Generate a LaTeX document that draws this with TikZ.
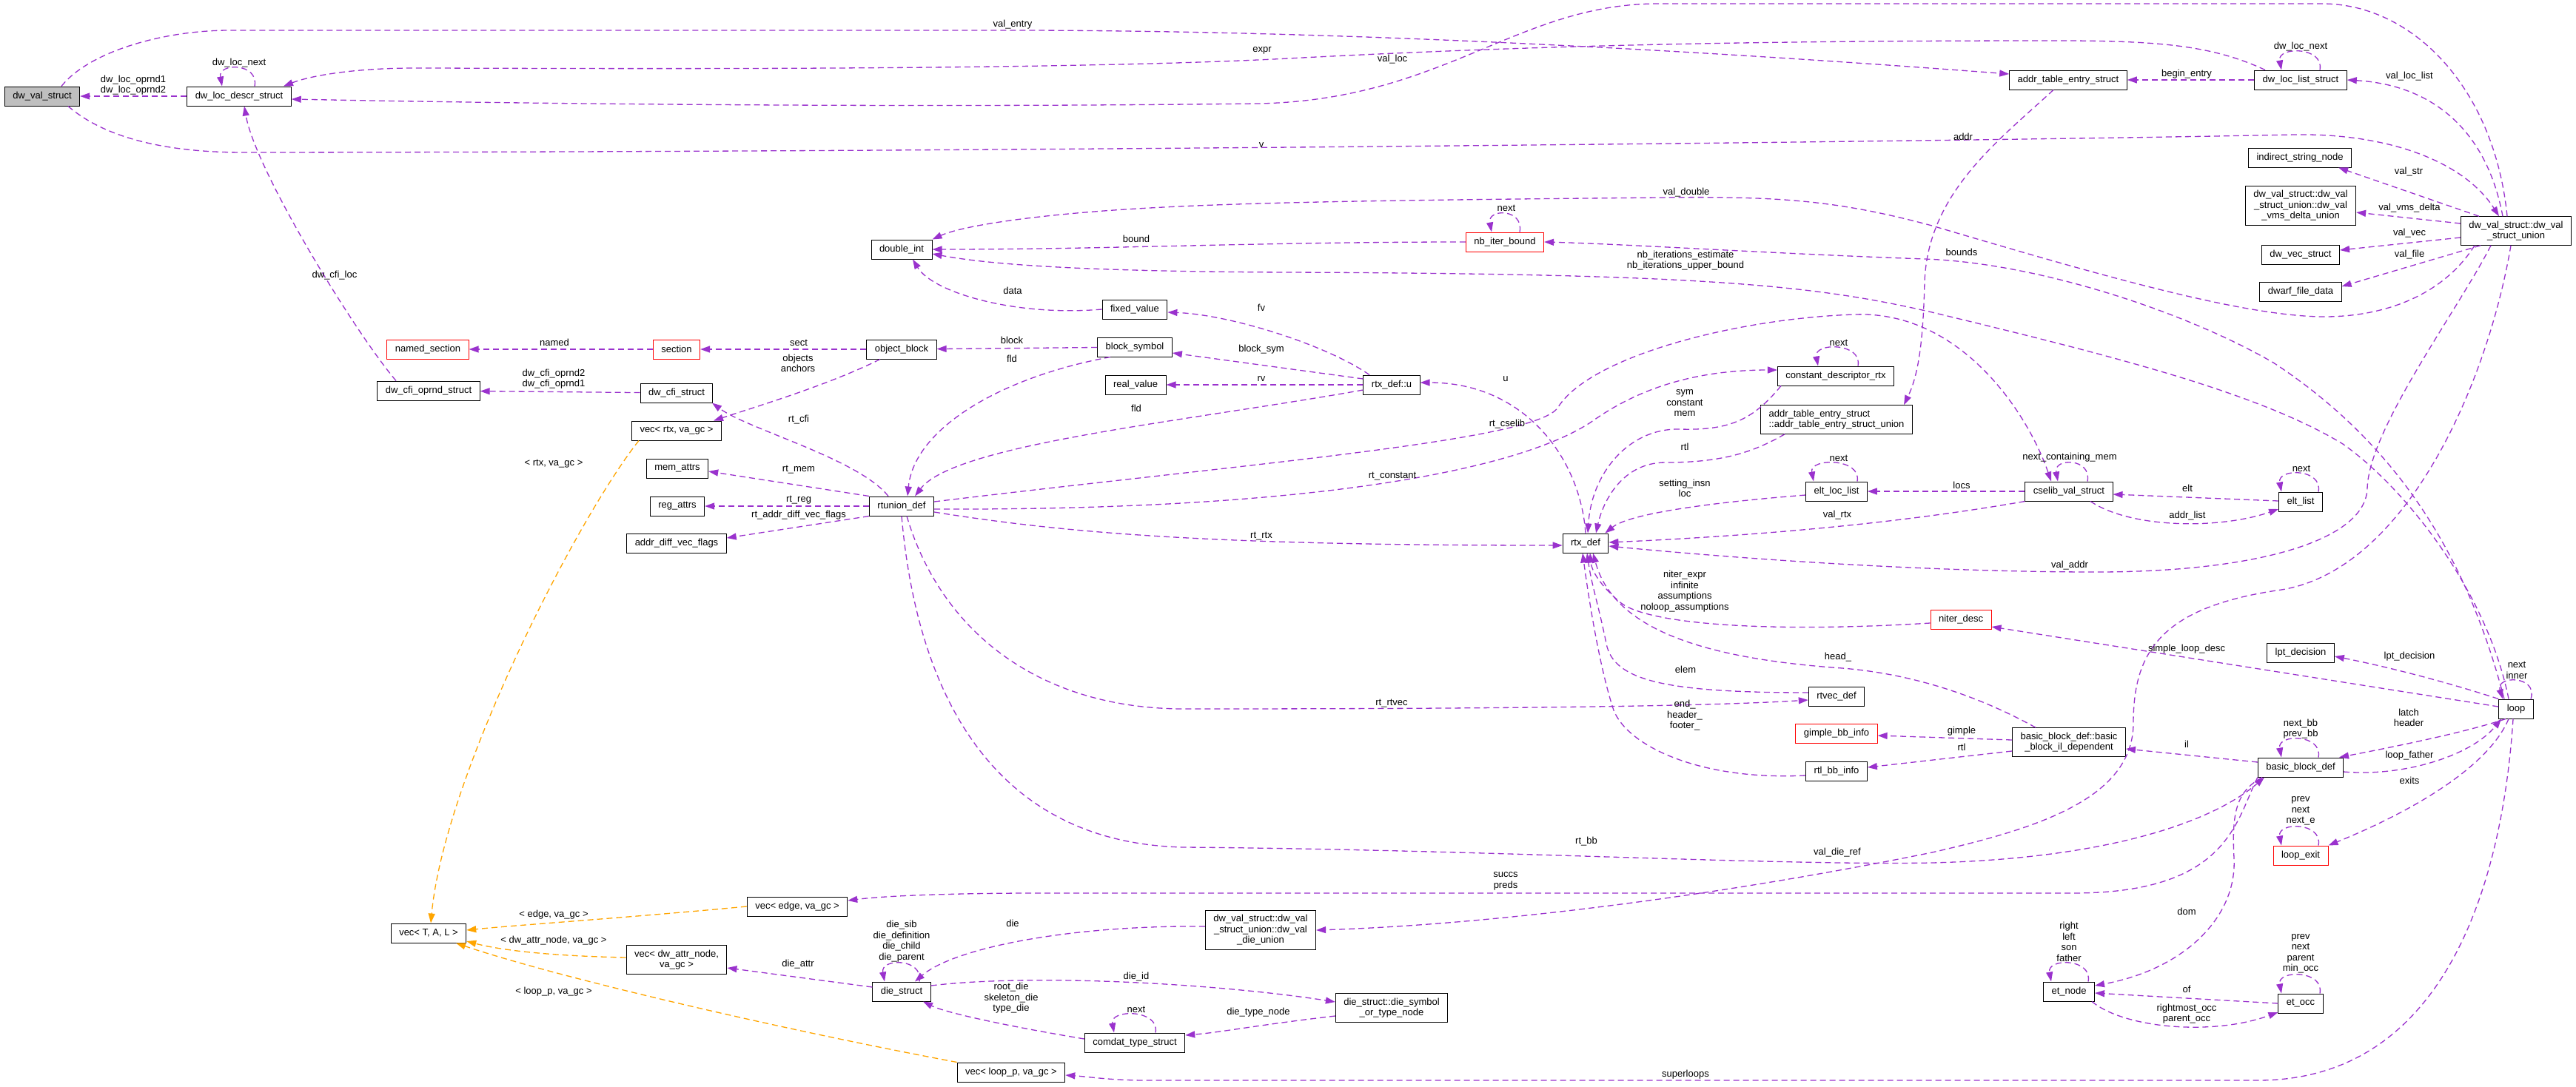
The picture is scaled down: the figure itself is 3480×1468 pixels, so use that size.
\documentclass[tikz,border=0pt]{standalone}
\usepackage{fontspec}
\setmainfont{Liberation Sans}
\usetikzlibrary{arrows.meta}
\definecolor{edgepurple}{HTML}{9A32CD}
\definecolor{tmplorange}{HTML}{FFA500}
\definecolor{boxgray}{HTML}{BFBFBF}
\begin{document}
\begin{tikzpicture}[x=1pt,y=-1pt,
  cls/.style={draw=black,line width=1pt,fill=white,font=\fontsize{13}{14.5}\selectfont,
              align=center,minimum height=26pt,inner xsep=11pt,inner ysep=6pt},
  cur/.style={cls,fill=boxgray},
  trunc/.style={cls,draw=red},
  uses/.style={draw=edgepurple,line width=1.3pt,dash pattern=on 8pt off 5pt,
               -{Triangle[length=13pt,width=9pt]}},
  tmpl/.style={uses,draw=tmplorange},
  lbl/.style={font=\fontsize{13}{14.5}\selectfont,align=center,inner sep=0pt}
]
  \useasboundingbox (0,0) rectangle (3480,1468);
  % Column 1
  \node[cur] (dwval) at (57,130) {dw\_val\_struct};
  \node[cls] (ldescr) at (323,130) {dw\_loc\_descr\_struct};
  \node[trunc] (namedsec) at (578,472) {named\_section};
  \node[cls] (cfiopr) at (579,528) {dw\_cfi\_oprnd\_struct};
  \node[cls] (vecTAL) at (579,1261) {vec< T, A, L >};
  % Column 2
  \node[trunc] (section) at (914,472) {section};
  \node[cls] (cfistr) at (914,531) {dw\_cfi\_struct};
  \node[cls] (vecrtx) at (914,582) {vec< rtx, va\_gc >};
  \node[cls] (memat) at (915,633) {mem\_attrs};
  \node[cls] (regat) at (915,684) {reg\_attrs};
  \node[cls] (adfv) at (914,734) {addr\_diff\_vec\_flags};
  \node[cls] (vecattr) at (914,1297) {vec< dw\_attr\_node,\\va\_gc >};
  \node[cls] (vecedge) at (1077,1225) {vec< edge, va\_gc >};
  % Column 3
  \node[cls] (dblint) at (1218,337) {double\_int};
  \node[cls] (objblk) at (1218,472) {object\_block};
  \node[cls] (rtunion) at (1218,684) {rtunion\_def};
  \node[cls] (diestr) at (1218,1340) {die\_struct};
  \node[cls] (veclp) at (1366,1449) {vec< loop\_p, va\_gc >};
  % Column 4
  \node[cls] (fixval) at (1533,418) {fixed\_value};
  \node[cls] (blksym) at (1533,469) {block\_symbol};
  \node[cls] (realval) at (1534,520) {real\_value};
  \node[cls] (comdat) at (1533,1409) {comdat\_type\_struct};
  \node[cls] (dieunion) at (1703,1257) {dw\_val\_struct::dw\_val\\\_struct\_union::dw\_val\\\_die\_union};
  % Column 5
  \node[cls] (rtxu) at (1880,520) {rtx\_def::u};
  \node[cls] (diesym) at (1880,1362) {die\_struct::die\_symbol\\\_or\_type\_node};
  \node[trunc] (nbiter) at (2033,327) {nb\_iter\_bound};
  \node[cls] (rtxdef) at (2142,734) {rtx\_def};
  % Column 6
  \node[cls] (cdrtx) at (2480,508) {constant\_descriptor\_rtx};
  \node[cls,align=left] (ateunion) at (2481,567) {addr\_table\_entry\_struct\\::addr\_table\_entry\_struct\_union};
  \node[cls] (eltloc) at (2481,664) {elt\_loc\_list};
  \node[trunc] (niter) at (2649,837) {niter\_desc};
  \node[cls] (rtvec) at (2481,941) {rtvec\_def};
  \node[trunc] (gimple) at (2481,991) {gimple\_bb\_info};
  \node[cls] (rtlbb) at (2481,1042) {rtl\_bb\_info};
  % Column 7
  \node[cls] (addrtab) at (2794,108) {addr\_table\_entry\_struct};
  \node[cls] (cselib) at (2795,664) {cselib\_val\_struct};
  \node[cls] (bbil) at (2795,1003) {basic\_block\_def::basic\\\_block\_il\_dependent};
  \node[cls] (etnode) at (2795,1340) {et\_node};
  % Column 8
  \node[cls] (dwloclist) at (3108,108) {dw\_loc\_list\_struct};
  \node[cls] (indstr) at (3107,213) {indirect\_string\_node};
  \node[cls] (vmsdelta) at (3108,278) {dw\_val\_struct::dw\_val\\\_struct\_union::dw\_val\\\_vms\_delta\_union};
  \node[cls] (dwvec) at (3108,344) {dw\_vec\_struct};
  \node[cls] (dwarffile) at (3108,394) {dwarf\_file\_data};
  \node[cls] (eltlist) at (3108,678) {elt\_list};
  \node[cls] (lptdec) at (3108,882) {lpt\_decision};
  \node[cls] (bbdef) at (3108,1037) {basic\_block\_def};
  \node[trunc] (loopexit) at (3108,1156) {loop\_exit};
  \node[cls] (etocc) at (3108,1356) {et\_occ};
  % Column 9
  \node[cls] (union) at (3399,312) {dw\_val\_struct::dw\_val\\\_struct\_union};
  \node[cls] (loop) at (3399,958) {loop};

  % Self references
  \draw[uses] ([xshift=21pt]ldescr.north) .. controls +(6,-32) and +(-6,-32) .. ([xshift=-23pt]ldescr.north);
  \draw[uses] ([xshift=26pt]dwloclist.north) .. controls +(6,-32) and +(-6,-32) .. ([xshift=-26pt]dwloclist.north);
  \draw[uses] ([xshift=20pt]nbiter.north) .. controls +(6,-32) and +(-6,-32) .. ([xshift=-18pt]nbiter.north);
  \draw[uses] ([xshift=30pt]cdrtx.north) .. controls +(6,-32) and +(-6,-32) .. ([xshift=-24pt]cdrtx.north);
  \draw[uses] ([xshift=28pt]eltloc.north) .. controls +(6,-32) and +(-6,-32) .. ([xshift=-31pt]eltloc.north);
  \draw[uses] ([xshift=25pt]cselib.north) .. controls +(6,-32) and +(-6,-32) .. ([xshift=-15pt]cselib.north);
  \draw[uses] ([xshift=24pt]eltlist.north) .. controls +(6,-32) and +(-6,-32) .. ([xshift=-26pt]eltlist.north);
  \draw[uses] ([xshift=24pt]bbdef.north) .. controls +(6,-32) and +(-6,-32) .. ([xshift=-26pt]bbdef.north);
  \draw[uses] ([xshift=24pt]loopexit.north) .. controls +(6,-32) and +(-6,-32) .. ([xshift=-26pt]loopexit.north);
  \draw[uses] ([xshift=26pt]etnode.north) .. controls +(6,-32) and +(-6,-32) .. ([xshift=-24pt]etnode.north);
  \draw[uses] ([xshift=26pt]etocc.north) .. controls +(6,-32) and +(-6,-32) .. ([xshift=-26pt]etocc.north);
  \draw[uses] ([xshift=24pt]diestr.north) .. controls +(6,-32) and +(-6,-32) .. ([xshift=-23pt]diestr.north);
  \draw[uses] ([xshift=28pt]comdat.north) .. controls +(6,-32) and +(-6,-32) .. ([xshift=-28pt]comdat.north);
  \draw[uses] ([xshift=20pt]loop.north) .. controls +(10,-32) and +(-10,-32) .. ([xshift=-18pt]loop.north);

  % dwarf part
  \draw[uses] (ldescr) -- (dwval);
  \draw[uses] ([xshift=26pt]dwval.north) .. controls (120,70) and (220,41) .. (310,41) -- (1368,41)
    .. controls (1900,41) and (2450,80) .. ([yshift=8pt]addrtab.west);
  \draw[uses] ([xshift=-48pt]dwloclist.north) .. controls (2990,62) and (2920,55) .. (2780,55)
    .. controls (2400,55) and (2100,60) .. (1740,79) .. controls (1400,97) and (700,92) .. (560,92)
    .. controls (480,92) and (420,102) .. ([xshift=60pt]ldescr.north);
  \draw[uses] ([xshift=-12pt]union.north) .. controls (3370,120) and (3260,5) .. (3137,5) -- (2240,5)
    .. controls (2050,5) and (1950,135) .. (1700,140) .. controls (1200,146) and (700,140) .. ([yshift=-4pt]ldescr.east);
  \draw[uses] ([xshift=-18pt]union.north) .. controls (3360,180) and (3290,115) .. (dwloclist.east);
  \draw[uses] ([xshift=35pt]dwval.south) .. controls (140,185) and (220,206) .. (330,206)
    .. controls (1500,205) and (2700,190) .. (3100,182) .. controls (3230,180) and (3330,220) .. ([xshift=-23pt]union.north);
  \draw[uses] ([xshift=-20pt]addrtab.south) .. controls (2700,190) and (2605,260) .. (2600,380)
    .. controls (2598,470) and (2590,510) .. ([xshift=91pt]ateunion.north);
  \draw[uses] (dwloclist) -- (addrtab);
  \draw[uses] ([xshift=-50pt]union.north) -- ([xshift=52pt]indstr.south);
  \draw[uses] ([yshift=10pt]union.west) -- ([yshift=-9pt]vmsdelta.east);
  \draw[uses] ([yshift=-9pt]union.west) -- ([yshift=6pt]dwvec.east);
  \draw[uses] ([xshift=-48pt]union.south) -- ([yshift=7pt]dwarffile.east);
  \draw[uses] ([xshift=-56pt]union.south) .. controls (3300,400) and (3220,428) .. (3140,428)
    .. controls (3030,428) and (2830,370) .. (2610,305) .. controls (2480,270) and (2400,265) .. (2240,267)
    .. controls (1950,270) and (1700,272) .. (1536,282) .. controls (1400,290) and (1300,305) .. (dblint.north east);
  \draw[uses] ([xshift=-34pt]union.south) .. controls (3320,420) and (3200,580) .. (3198,660)
    .. controls (3196,730) and (3050,773) .. (2832,773) .. controls (2600,773) and (2350,755) .. ([yshift=-4pt]rtxdef.east);
  \draw[uses] ([xshift=-7pt]union.south) .. controls (3360,520) and (3250,770) .. (3082,797)
    .. controls (2920,820) and (2882,880) .. (2882,977) .. controls (2882,1080) and (2750,1120) .. (2610,1152)
    .. controls (2300,1215) and (2000,1250) .. (dieunion.east);
  \draw[uses] ([xshift=-44pt]cfiopr.north) .. controls (480,450) and (345,230) .. ([xshift=7pt]ldescr.south);
  \draw[uses] (cfistr) -- (cfiopr);

  % rtl part
  \draw[uses] (objblk) -- (section);
  \draw[uses] (section) -- (namedsec);
  \draw[uses] (blksym) -- (objblk);
  \draw[uses] (nbiter.west) .. controls (1700,327) and (1500,337) .. (dblint.east);
  \draw[uses] (fixval.west) .. controls (1370,428) and (1260,395) .. ([xshift=15pt]dblint.south);
  \draw[uses] ([xshift=-30pt]rtxu.north) .. controls (1790,465) and (1660,425) .. ([yshift=-4pt]fixval.east);
  \draw[uses] ([yshift=8pt]rtxu.west) -- ([yshift=-8pt]blksym.east);
  \draw[uses] (rtxu) -- (realval);
  \draw[uses] ([yshift=-7pt]rtxu.west) .. controls (1600,570) and (1290,600) .. ([xshift=18pt]rtunion.north);
  \draw[uses] ([xshift=-33pt]blksym.south) .. controls (1350,510) and (1235,580) .. ([xshift=8pt]rtunion.north);
  \draw[uses] ([xshift=-18pt]rtunion.north) .. controls (1160,620) and (1010,580) .. ([xshift=48pt]cfistr.south);
  \draw[uses] ([xshift=-29pt]objblk.south) .. controls (1120,520) and (1020,550) .. ([xshift=50pt]vecrtx.north);
  \draw[uses] (rtunion.north west) -- ([yshift=-4pt]memat.east);
  \draw[uses] (rtunion) -- (regat);
  \draw[uses] (rtunion.south west) -- ([yshift=7pt]adfv.east);
  \draw[uses] ([yshift=-8pt]rtunion.east) .. controls (1450,722) and (1650,737) .. ([yshift=-3pt]rtxdef.west);
  \draw[uses] ([yshift=-4pt]rtunion.east) .. controls (1800,690) and (2060,630) .. (2150,570)
    .. controls (2220,520) and (2300,500) .. ([yshift=8pt]cdrtx.west);
  \draw[uses] ([yshift=6pt]rtunion.east) .. controls (1700,625) and (2080,595) .. (2105,550)
    .. controls (2150,480) and (2350,430) .. (2506,425) .. controls (2650,420) and (2740,560) .. ([xshift=-24pt]cselib.north);
  \draw[uses] ([xshift=7pt]rtunion.south) .. controls (1270,850) and (1400,958) .. (1600,958)
    .. controls (2000,958) and (2300,955) .. ([yshift=-5pt]rtvec.west);
  \draw[uses] (rtunion.south) .. controls (1240,950) and (1350,1140) .. (1600,1145)
    .. controls (2000,1148) and (2400,1170) .. (2610,1166) .. controls (2850,1160) and (2990,1110) .. ([xshift=-49pt]bbdef.south);
  \draw[uses] (rtxdef.north) .. controls (2135,620) and (2060,517) .. ([yshift=3pt]rtxu.east);
  \draw[uses] ([xshift=-74pt]cdrtx.south) .. controls (2370,565) and (2340,582) .. (2270,580)
    .. controls (2200,578) and (2150,640) .. ([xshift=3pt]rtxdef.north);
  \draw[uses] ([xshift=-70pt]ateunion.south) .. controls (2370,610) and (2330,625) .. (2250,625)
    .. controls (2190,625) and (2165,680) .. ([xshift=14pt]rtxdef.north);
  \draw[uses] ([yshift=-5pt]eltloc.west) .. controls (2300,680) and (2200,695) .. ([xshift=-5pt]rtxdef.north east);
  \draw[uses] (cselib.south west) .. controls (2550,710) and (2350,725) .. ([yshift=1pt]rtxdef.east);
  \draw[uses] ([yshift=-5pt]niter.west) .. controls (2400,855) and (2230,845) .. (2190,815)
    .. controls (2160,790) and (2150,770) .. ([xshift=6pt]rtxdef.south);
  \draw[uses] ([xshift=-45pt]bbil.north) .. controls (2690,950) and (2600,912) .. (2489,903)
    .. controls (2300,890) and (2180,850) .. ([xshift=10pt]rtxdef.south);
  \draw[uses] ([yshift=5pt]rtvec.west) .. controls (2250,936) and (2180,920) .. (2170,870)
    .. controls (2160,820) and (2150,790) .. ([xshift=2pt]rtxdef.south);
  \draw[uses] ([yshift=-6pt]rtlbb.west) .. controls (2300,1055) and (2200,1010) .. (2180,960)
    .. controls (2160,900) and (2145,800) .. ([xshift=-4pt]rtxdef.south);
  \draw[uses] (cselib) -- (eltloc);
  \draw[uses] ([yshift=1pt]eltlist.west) -- ([yshift=-4pt]cselib.east);
  \draw[uses] ([xshift=29pt]cselib.south) .. controls (2880,715) and (3000,715) .. ([yshift=-10pt]eltlist.west);

  % cfg part
  \draw[uses] ([xshift=-10pt]loop.north) .. controls (3360,800) and (3250,660) .. (3165,600)
    .. controls (3050,530) and (2850,480) .. (2610,422) .. controls (2450,385) and (2300,370) .. (1740,368)
    .. controls (1500,367) and (1350,360) .. ([yshift=-6pt]dblint.east);
  \draw[uses] ([xshift=-16pt]loop.north) .. controls (3345,800) and (3270,620) .. (3071,490)
    .. controls (2950,420) and (2750,355) .. (2600,350) .. controls (2400,343) and (2200,330) .. (nbiter.east);
  \draw[uses] ([yshift=3pt]loop.west) -- ([yshift=-10pt]niter.east);
  \draw[uses] (loop.north west) .. controls (3300,920) and (3220,900) .. ([yshift=-5pt]lptdec.east);
  \draw[uses] ([xshift=-14pt]loop.south) .. controls (3330,990) and (3230,1010) .. ([xshift=52pt]bbdef.north);
  \draw[uses] ([yshift=-6pt]bbdef.east) .. controls (3250,1050) and (3340,1020) .. ([xshift=-20pt]loop.south);
  \draw[uses] ([xshift=-10pt]loop.south) .. controls (3360,1040) and (3250,1100) .. (loopexit.north east);
  \draw[uses] ([xshift=-4pt]loop.south) .. controls (3380,1200) and (3300,1460) .. (3050,1460) -- (1550,1460)
    .. controls (1500,1460) and (1470,1455) .. ([yshift=-4pt]veclp.east);
  \draw[uses] ([yshift=7pt]bbdef.west) -- ([yshift=-9pt]bbil.east);
  \draw[uses] (bbdef.south west) .. controls (3020,1110) and (3010,1207) .. (2800,1207) -- (1400,1207)
    .. controls (1300,1207) and (1200,1210) .. ([yshift=8pt]vecedge.east);
  \draw[uses] ([xshift=-52pt]bbdef.south) .. controls (3020,1070) and (3015,1100) .. (3018,1160)
    .. controls (3022,1240) and (2950,1310) .. ([yshift=8pt]etnode.east);
  \draw[uses] ([yshift=3pt]bbil.west) -- ([yshift=-3pt]gimple.east);
  \draw[uses] ([yshift=-12pt]bbil.west) -- ([yshift=5pt]rtlbb.east);
  \draw[uses] (etocc.west) -- ([yshift=-2pt]etnode.east);
  \draw[uses] ([xshift=31pt]etnode.south) .. controls (2870,1390) and (2990,1400) .. ([yshift=-12pt]etocc.west);

  % die part
  \draw[uses] ([yshift=6pt]diestr.west) -- ([yshift=-11pt]vecattr.east);
  \draw[uses] ([yshift=5pt]dieunion.west) .. controls (1450,1250) and (1290,1280) .. ([xshift=18pt]diestr.north);
  \draw[uses] ([yshift=8pt]diestr.east) .. controls (1400,1315) and (1650,1330) .. ([yshift=8pt]diesym.west);
  \draw[uses] ([yshift=5pt]comdat.west) .. controls (1380,1390) and (1280,1370) .. ([xshift=29pt]diestr.south);
  \draw[uses] ([yshift=-11pt]diesym.west) .. controls (1700,1385) and (1650,1395) .. ([yshift=10pt]comdat.east);

  % template instances
  \draw[tmpl] ([xshift=-51pt]vecrtx.south) .. controls (780,700) and (600,1050) .. ([xshift=3pt]vecTAL.north);
  \draw[tmpl] (vecedge.west) .. controls (850,1240) and (700,1250) .. ([yshift=4pt]vecTAL.east);
  \draw[tmpl] ([yshift=3pt]vecattr.west) .. controls (750,1292) and (680,1285) .. ([yshift=-11pt]vecTAL.east);
  \draw[tmpl] (veclp.north west) .. controls (1050,1390) and (750,1320) .. ([xshift=37pt]vecTAL.south);

  % edge labels
  \node[lbl] (tOprnd) at (180,115) {dw\_loc\_oprnd1\\dw\_loc\_oprnd2};
  \node[lbl] (tLocNextA) at (323,85) {dw\_loc\_next};
  \node[lbl] (tValEntry) at (1368,33) {val\_entry};
  \node[lbl] (tExpr) at (1705,68) {expr};
  \node[lbl] (tValLoc) at (1881,80) {val\_loc};
  \node[lbl] (tV) at (1704,196) {v};
  \node[lbl] (tAddr) at (2652,185) {addr};
  \node[lbl] (tLocNextB) at (3108,63) {dw\_loc\_next};
  \node[lbl] (tBeginEntry) at (2954,100) {begin\_entry};
  \node[lbl] (tValLocList) at (3255,103) {val\_loc\_list};
  \node[lbl] (tValStr) at (3254,232) {val\_str};
  \node[lbl] (tVmsDelta) at (3255,281) {val\_vms\_delta};
  \node[lbl] (tValVec) at (3255,315) {val\_vec};
  \node[lbl] (tValFile) at (3255,344) {val\_file};
  \node[lbl] (tValDouble) at (2278,260) {val\_double};
  \node[lbl] (tNextIter) at (2035,281) {next};
  \node[lbl] (tBound) at (1535,323) {bound};
  \node[lbl] (tNbIter) at (2277,352) {nb\_iterations\_estimate\\nb\_iterations\_upper\_bound};
  \node[lbl] (tBounds) at (2650,341) {bounds};
  \node[lbl] (tData) at (1368,393) {data};
  \node[lbl] (tFv) at (1704,416) {fv};
  \node[lbl] (tNamed) at (749,463) {named};
  \node[lbl] (tSect) at (1079,463) {sect};
  \node[lbl] (tObjects) at (1078,491) {objects\\anchors};
  \node[lbl] (tBlock) at (1367,460) {block};
  \node[lbl] (tFldA) at (1367,485) {fld};
  \node[lbl] (tBlockSym) at (1704,472) {block\_sym};
  \node[lbl] (tNextCd) at (2484,463) {next};
  \node[lbl] (tCfiOprnd) at (748,512) {dw\_cfi\_oprnd2\\dw\_cfi\_oprnd1};
  \node[lbl] (tCfiLoc) at (452,372) {dw\_cfi\_loc};
  \node[lbl] (tRv) at (1704,512) {rv};
  \node[lbl] (tU) at (2034,512) {u};
  \node[lbl] (tFldB) at (1535,552) {fld};
  \node[lbl] (tSym) at (2276,545) {sym\\constant\\mem};
  \node[lbl] (tRtCfi) at (1079,567) {rt\_cfi};
  \node[lbl] (tRtCselib) at (2036,573) {rt\_cselib};
  \node[lbl] (tRtl) at (2276,604) {rtl};
  \node[lbl] (tNextMem) at (2796,618) {next\_containing\_mem};
  \node[lbl] (tNextLoc) at (2484,619) {next};
  \node[lbl] (tNextElt) at (3109,633) {next};
  \node[lbl] (tRtConst) at (1881,644) {rt\_constant};
  \node[lbl] (tRtMem) at (1079,635) {rt\_mem};
  \node[lbl] (tSetting) at (2276,660) {setting\_insn\\loc};
  \node[lbl] (tLocs) at (2650,656) {locs};
  \node[lbl] (tElt) at (2955,660) {elt};
  \node[lbl] (tRtReg) at (1079,676) {rt\_reg};
  \node[lbl] (tRtAdfv) at (1079,696) {rt\_addr\_diff\_vec\_flags};
  \node[lbl] (tValRtx) at (2482,696) {val\_rtx};
  \node[lbl] (tAddrList) at (2955,697) {addr\_list};
  \node[lbl] (tRtRtx) at (1704,725) {rt\_rtx};
  \node[lbl] (tValAddr) at (2796,764) {val\_addr};
  \node[lbl] (tNiter) at (2276,799) {niter\_expr\\infinite\\assumptions\\noloop\_assumptions};
  \node[lbl] (tSimple) at (2954,877) {simple\_loop\_desc};
  \node[lbl] (tLpt) at (3255,887) {lpt\_decision};
  \node[lbl] (tHead) at (2483,888) {head\_};
  \node[lbl] (tNextInner) at (3400,906) {next\\inner};
  \node[lbl] (tElem) at (2277,905) {elem};
  \node[lbl] (tRtRtvec) at (1880,951) {rt\_rtvec};
  \node[lbl] (tEnd) at (2276,967) {end\_\\header\_\\footer\_};
  \node[lbl] (tLatch) at (3254,970) {latch\\header};
  \node[lbl] (tNextBb) at (3108,985) {next\_bb\\prev\_bb};
  \node[lbl] (tGimple) at (2650,988) {gimple};
  \node[lbl] (tRtlB) at (2650,1010) {rtl};
  \node[lbl] (tIl) at (2954,1006) {il};
  \node[lbl] (tLoopFather) at (3255,1021) {loop\_father};
  \node[lbl] (tExits) at (3255,1055) {exits};
  \node[lbl] (tExitSelf) at (3108,1096) {prev\\next\\next\_e};
  \node[lbl] (tRtBb) at (2143,1137) {rt\_bb};
  \node[lbl] (tDieRef) at (2482,1152) {val\_die\_ref};
  \node[lbl] (tSuccs) at (2034,1191) {succs\\preds};
  \node[lbl] (tEdgeGc) at (748,1236) {< edge, va\_gc >};
  \node[lbl] (tDom) at (2954,1232) {dom};
  \node[lbl] (tDie) at (1368,1248) {die};
  \node[lbl] (tDieSelf) at (1218,1272) {die\_sib\\die\_definition\\die\_child\\die\_parent};
  \node[lbl] (tEtSelf) at (2795,1273) {right\\left\\son\\father};
  \node[lbl] (tOccSelf) at (3108,1289) {prev\\next\\parent\\min\_occ};
  \node[lbl] (tAttrGc) at (748,1271) {< dw\_attr\_node, va\_gc >};
  \node[lbl] (tDieAttr) at (1078,1303) {die\_attr};
  \node[lbl] (tDieId) at (1535,1320) {die\_id};
  \node[lbl] (tRootDie) at (1366,1349) {root\_die\\skeleton\_die\\type\_die};
  \node[lbl] (tLoopGc) at (748,1340) {< loop\_p, va\_gc >};
  \node[lbl] (tOf) at (2954,1337) {of};
  \node[lbl] (tOcc) at (2954,1370) {rightmost\_occ\\parent\_occ};
  \node[lbl] (tNextComdat) at (1535,1364) {next};
  \node[lbl] (tTypeNode) at (1700,1368) {die\_type\_node};
  \node[lbl] (tSuper) at (2277,1452) {superloops};
  \node[lbl] (tRtxGc) at (748,627) {< rtx, va\_gc >};
\end{tikzpicture}
\end{document}
